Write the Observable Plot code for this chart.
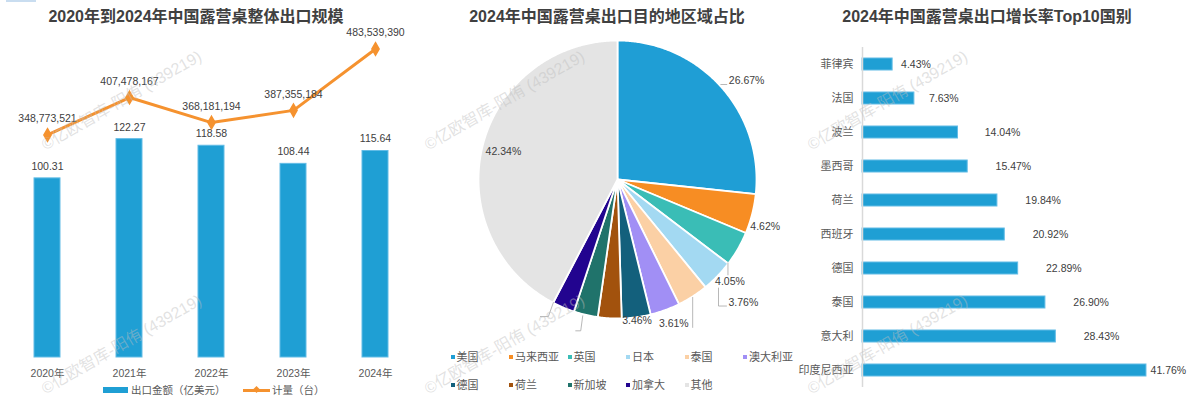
<!DOCTYPE html>
<html><head><meta charset="utf-8">
<script src="https://cdn.jsdelivr.net/npm/d3@7"></script>
<script src="https://cdn.jsdelivr.net/npm/@observablehq/plot@0.6"></script>
<style>
body{margin:0;background:#fff;font-family:"Liberation Sans","Noto Sans CJK SC",sans-serif;}
#root{position:relative;width:1200px;height:396px;overflow:hidden;background:#fff;}
.panel{position:absolute;top:0;}
.title{position:absolute;top:7px;font-weight:bold;font-size:16px;line-height:20px;color:#404040;white-space:nowrap;transform:translateX(-50%);}
.wm{position:absolute;font-size:16px;line-height:16px;color:rgba(190,190,190,0.45);transform-origin:0 100%;transform:rotate(-30deg);white-space:nowrap;pointer-events:none;}
.lg{position:absolute;font-size:10.5px;line-height:14px;color:#595959;white-space:nowrap;}
.sw{position:absolute;width:4px;height:4px;}
</style></head><body><div id="root"></div>
<script>
// ---------- data ----------
const years = ["2020年","2021年","2022年","2023年","2024年"];
const exportValue = [100.31,122.27,118.58,108.44,115.64];      // 出口金额（亿美元）
const exportQty = [348773521,407478167,368181194,387355184,483539390]; // 计量（台）

const regions = ["美国","马来西亚","英国","日本","泰国","澳大利亚","德国","荷兰","新加坡","加拿大","其他"];
const regionShare = [26.67,4.62,4.05,3.76,3.61,3.46,3.35,2.75,2.80,2.59,42.34];
const regionColors = ["#1F9ED5","#F78D23","#3ABDB6","#A3D9F2","#FBD0A5","#A18FF5","#13607C","#A2520D","#20736B","#22048F","#E4E4E4"];

const growthCountries = ["菲律宾","法国","波兰","墨西哥","荷兰","西班牙","德国","泰国","意大利","印度尼西亚"];
const growthRates = [4.43,7.63,14.04,15.47,19.84,20.92,22.89,26.90,28.43,41.76];

// ---------- common ----------
const FONT = '"Liberation Sans","Noto Sans CJK SC",sans-serif';
const BLUE = "#1F9FD4", ORANGE = "#F5922F", TXT = "#404040", AX = "#595959";
const root = document.getElementById("root");
function place(el, left){ el.classList.add("panel"); el.style.left = left + "px"; root.appendChild(el); }
function div(cls, css, text){ const d = document.createElement("div"); d.className = cls; Object.assign(d.style, css); if (text != null) d.textContent = text; root.appendChild(d); return d; }

// ---------- left: bar + line ----------
const barData = years.map((y,i)=>({year:y, value:exportValue[i], qty:exportQty[i]}));
const barMax = 182, qtyMax = 509.4e6; // secondary axis shares zero baseline
const qy = d => d.qty / qtyMax * barMax;
const left = Plot.plot({
  width: 420, height: 396, marginLeft: 5, marginRight: 3, marginTop: 32, marginBottom: 39,
  style: {fontFamily: FONT, fontSize: "10.5px", color: AX, background: "transparent", overflow: "visible"},
  x: {domain: years, paddingInner: 0.685, paddingOuter: 0.3425, label: null, tickSize: 0, tickPadding: 12},
  y: {domain: [0, barMax], axis: null},
  marks: [
    Plot.barY(barData, {x: "year", y: "value", fill: BLUE, stroke: "#62BCE6", strokeWidth: 1}),
    Plot.text(barData, {x: "year", y: "value", text: d => d.value.toFixed(2), dy: -12, fill: TXT, fontSize: 10.5}),
    Plot.line(barData, {x: "year", y: qy, stroke: ORANGE, strokeWidth: 3}),
    Plot.dot(barData, {x: "year", y: qy, symbol: "diamond", r: 3.8, fill: ORANGE, stroke: ORANGE}),
    Plot.text(barData, {x: "year", y: qy, text: d => d3.format(",")(d.qty), dy: -16, fill: TXT, fontSize: 10.5})
  ]
});
place(left, 0);

// left legend
div("", {position:"absolute", left:"103px", top:"387px", width:"25px", height:"6px", background:BLUE});
div("lg", {left:"131px", top:"383px"}, "出口金额（亿美元）");
div("", {position:"absolute", left:"243px", top:"388.5px", width:"27px", height:"3px", background:ORANGE});
div("", {position:"absolute", left:"253.5px", top:"386.5px", width:"5px", height:"5px", background:ORANGE, transform:"rotate(45deg)"});
div("lg", {left:"272px", top:"383px"}, "计量（台）");

// ---------- middle: pie ----------
const pieData = regions.map((r,i)=>({region:r, share:regionShare[i], color:regionColors[i], i}));
const arcs = d3.pie().sort(null).value(d=>d.share)(pieData);
const R = 139; // px per unit radius
const pieMarks = [];
arcs.forEach(a => {
  const pts = [{x:0, y:0}];
  const n = Math.max(2, Math.ceil((a.endAngle - a.startAngle) / (Math.PI/360)));
  for (let k = 0; k <= n; k++) {
    const t = a.startAngle + (a.endAngle - a.startAngle) * k / n;
    pts.push({x: Math.sin(t), y: Math.cos(t)});
  }
  pieMarks.push(Plot.line(pts, {x:"x", y:"y", fill: a.data.color, stroke: "white", strokeWidth: 1.8, curve: "linear-closed", strokeLinejoin: "round"}));
});
// label layout (pixel offsets from the slice's outer mid point)
const labelLayout = {
  0: {anchor:"start", dx:8, dy:-6, leader:[[0,-2],[6,-2]]},
  1: {anchor:"middle", dx:13, dy:13},
  2: {anchor:"middle", dx:-8, dy:33, leader:[[-10,14],[-10,26]]},
  3: {anchor:"start", dx:11, dy:27, leader:[[1,12],[1,30],[9,30]]},
  4: {anchor:"end", dx:-4, dy:27, leader:[[0,1],[0,31]]},
  5: {anchor:"middle", dx:-28, dy:11},
  8: {leader:[[-3,1],[-5,16],[-10,16]]},
  9: {leader:[[-10,-5],[-15,9],[-23,9]]}
};
arcs.forEach(a => {
  const mid = (a.startAngle + a.endAngle) / 2;
  const ex = Math.sin(mid), ey = Math.cos(mid);
  const L = labelLayout[a.data.i];
  const txt = a.data.share.toFixed(2) + "%";
  if (a.data.region === "其他") {
    pieMarks.push(Plot.text([{x: ex*0.845, y: ey*0.845}], {x:"x", y:"y", text: () => txt, fill: TXT, fontSize: 10.5}));
    return;
  }
  if (!L) return;
  if (L.leader) {
    const lp = L.leader.map(([px,py]) => ({x: ex + px/R, y: ey - py/R}));
    pieMarks.push(Plot.line(lp, {x:"x", y:"y", stroke: "#A6A6A6", strokeWidth: 0.8}));
  }
  if (L.anchor) {
    pieMarks.push(Plot.text([{x: ex, y: ey}], {x:"x", y:"y", text: () => txt, textAnchor: L.anchor, dx: L.dx, dy: L.dy, fill: TXT, fontSize: 10.5}));
  }
});
const pie = Plot.plot({
  width: 400, height: 396, marginLeft: 78, marginRight: 44, marginTop: 40, marginBottom: 78,
  style: {fontFamily: FONT, fontSize: "10.5px", color: AX, background: "transparent", overflow: "visible"},
  x: {domain: [-1, 1], axis: null},
  y: {domain: [-1, 1], axis: null},
  marks: pieMarks
});
place(pie, 400);

// pie legend
regions.forEach((r, i) => {
  const col = i % 6, row = Math.floor(i / 6);
  const x = 450.5 + col * 58.5, y = 357 + row * 28;
  div("sw", {left: x + "px", top: (y - 2) + "px", background: regionColors[i]});
  div("lg", {left: (x + 6) + "px", top: (y - 7.5) + "px", fontSize: "11px"}, r);
});

// ---------- right: horizontal bars ----------
const growthData = growthCountries.map((c,i)=>({country:c, rate:growthRates[i]}));
const maxRate = d3.max(growthRates);
const right = Plot.plot({
  width: 400, height: 396, marginLeft: 62, marginRight: 32, marginTop: 47, marginBottom: 9,
  style: {fontFamily: FONT, fontSize: "11px", color: AX, background: "transparent", overflow: "visible"},
  x: {domain: [0, 45], axis: null},
  y: {domain: growthCountries, paddingInner: 0.648, paddingOuter: 0.315, tickSize: 0, tickPadding: 9, label: null},
  marks: [
    Plot.barX(growthData, {x: "rate", y: "country", fill: BLUE, stroke: "#62BCE6", strokeWidth: 1}),
    Plot.ruleX([0], {stroke: "#D9D9D9", strokeWidth: 1.5}),
    Plot.text(growthData, {
      x: d => d.rate === maxRate ? d.rate + 0.6 : d.rate + Math.min(4.1, d.rate * 0.28),
      y: "country", text: d => d.rate.toFixed(2) + "%", textAnchor: "start", fill: TXT, fontSize: 10.5
    })
  ]
});
place(right, 800);

// ---------- titles ----------
div("title", {left: "196px"}, "2020年到2024年中国露营桌整体出口规模");
div("title", {left: "607px"}, "2024年中国露营桌出口目的地区域占比");
div("title", {left: "987px"}, "2024年中国露营桌出口增长率Top10国别");

// small mark at top-left
div("", {position:"absolute", left:"6px", top:"0px", width:"30px", height:"2px", background:"#C9DDF0"});

// ---------- watermarks ----------
[47, 430, 813].forEach(x => [153, 397].forEach(y => {
  div("wm", {left: x + "px", top: (y - 16) + "px"}, "©亿欧智库-阳侑 (439219)");
}));
</script></body></html>
